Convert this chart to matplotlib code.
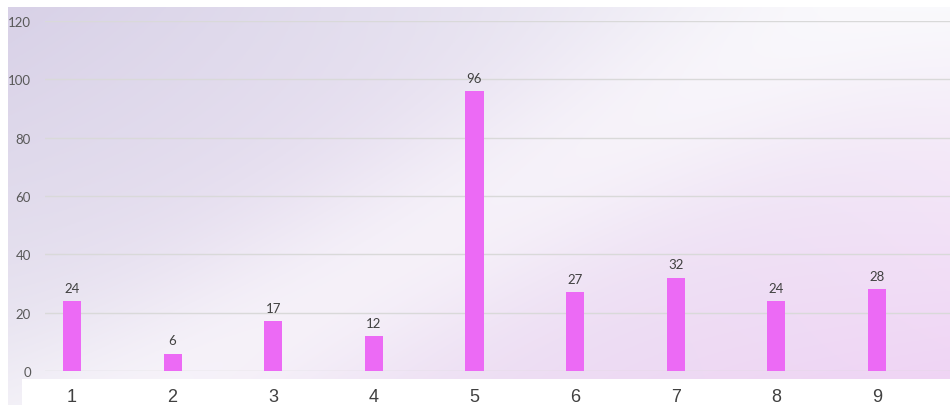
import numpy as np
import matplotlib
matplotlib.use("Agg")
import matplotlib.pyplot as plt
from matplotlib.colors import to_rgb
from matplotlib.patches import Rectangle

categories = ["1", "2", "3", "4", "5", "6", "7", "8", "9"]
values = [24, 6, 17, 12, 96, 27, 32, 24, 28]
y_ticks = [0, 20, 40, 60, 80, 100, 120]

W, H = 953, 406
fig = plt.figure(figsize=(W / 100, H / 100), dpi=100)
fig.patch.set_facecolor("white")

# gradient background panel
bg = fig.add_axes([8 / W, 0, (950 - 8) / W, 1 - 8 / H], zorder=-2)
ny, nx = 200, 400
yy, xx = np.mgrid[0:1:ny * 1j, 0:1:nx * 1j]
tl = np.array(to_rgb("#d8d1e7"))
tr = np.array(to_rgb("#f6f5fa"))
bl = np.array(to_rgb("#ebe7f2"))
br = np.array(to_rgb("#efd2f4"))
img = ((1 - xx)[..., None] * (1 - yy)[..., None] * tl + xx[..., None] * (1 - yy)[..., None] * tr
       + (1 - xx)[..., None] * yy[..., None] * bl + xx[..., None] * yy[..., None] * br)
# soft light band across the middle
d = (xx - 0.55) * 0.8 + (yy - 0.45) * 0.6
band = np.exp(-(d / 0.18) ** 2) * 0.55
img = img + (1 - img) * band[..., None]
bg.imshow(np.clip(img, 0, 1), aspect="auto", extent=[0, 1, 0, 1], origin="upper")
bg.set_axis_off()

# white strip under the plot
fig.add_artist(Rectangle((22 / W, 0), 1, 1 - 380 / H, transform=fig.transFigure,
                         facecolor="white", edgecolor="none", zorder=-1))

ax = fig.add_axes([45 / W, 1 - 372 / H, (950 - 45) / W, 350 / H], zorder=0)
ax.patch.set_alpha(0)
x = np.arange(1, len(categories) + 1)
bars = ax.bar(x, values, width=0.18, color="#ec6af5", zorder=3)

for xi, v in zip(x, values):
    ax.text(xi, v + 2.5, str(v), ha="center", va="bottom", fontsize=9.5,
            color="#404040", family="Lato")

ax.set_xlim(0.732, 9.726)
ax.set_ylim(0, 120)
ax.set_yticks(y_ticks)
ax.set_xticks(x)
ax.set_xticklabels(categories, fontsize=13, color="#404040", family="Liberation Sans")
ax.set_yticklabels([str(t) for t in y_ticks], fontsize=9.5, color="#595959", family="Lato")
ax.tick_params(axis="y", length=0, pad=10)
ax.tick_params(axis="x", length=0, pad=12)
ax.grid(axis="y", color="#d9d9d9", linewidth=1, zorder=0)
for s in ax.spines.values():
    s.set_visible(False)

fig.savefig("out.png", dpi=100)
